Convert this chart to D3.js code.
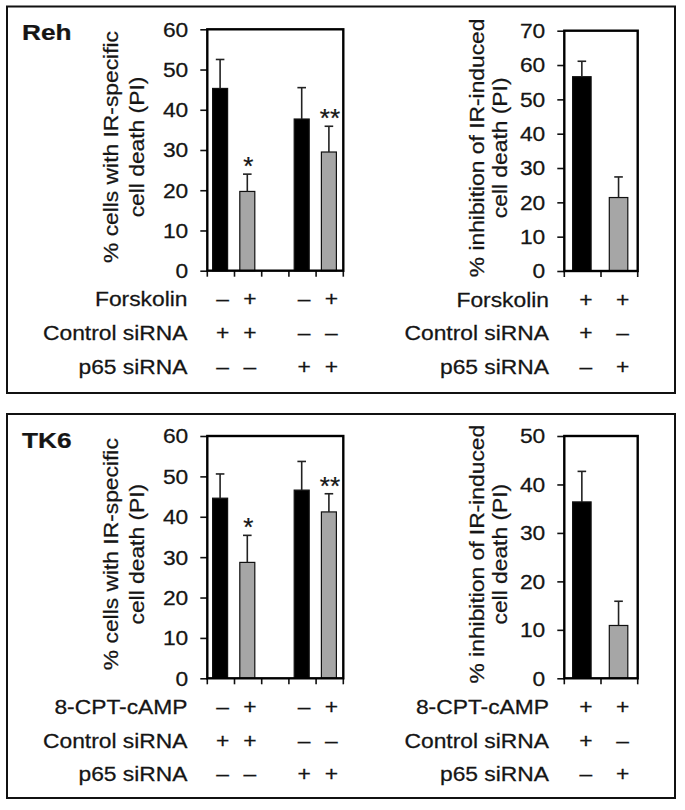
<!DOCTYPE html>
<html>
<head>
<meta charset="utf-8">
<script src="https://cdn.jsdelivr.net/npm/d3@7"></script>
<style>
  html, body { margin: 0; padding: 0; background: #fff; }
  svg { display: block; }
  text { font-family: "Liberation Sans", Arial, Helvetica, sans-serif; fill: #151515; stroke: #151515; stroke-width: 0.25px; }
</style>
</head>
<body>
<div id="chart"></div>
<script>
// ---------- DATA ----------
const deathSlots = ["c1", "c2", "gap", "c3", "c4"];
const deathBars = ["c1", "c2", "c3", "c4"];
const inhibBars = ["c1", "c2"];
const barColors = ["#000000", "#a6a6a6", "#000000", "#a6a6a6"];

const rehDeathMean = [45.3, 19.7, 37.7, 29.5];
const rehDeathErr = [7.2, 4.3, 7.8, 6.4];
const rehDeathSig = ["", "*", "", "**"];
const rehInhibMean = [56.6, 21.4];
const rehInhibErr = [4.5, 6.0];

const tk6DeathMean = [44.6, 28.7, 46.6, 41.2];
const tk6DeathErr = [6.0, 6.7, 7.1, 4.5];
const tk6DeathSig = ["", "*", "", "**"];
const tk6InhibMean = [36.4, 10.9];
const tk6InhibErr = [6.3, 5.0];

const deathTicks = [0, 10, 20, 30, 40, 50, 60];
const rehInhibTicks = [0, 10, 20, 30, 40, 50, 60, 70];
const tk6InhibTicks = [0, 10, 20, 30, 40, 50];

const deathTitle = ["% cells with IR-specific", "cell death (PI)"];
const inhibTitle = ["% inhibition of IR-induced", "cell death (PI)"];

const rehLeftRows = [
  ["Forskolin", ["–", "+", "–", "+"]],
  ["Control siRNA", ["+", "+", "–", "–"]],
  ["p65 siRNA", ["–", "–", "+", "+"]]
];
const rehRightRows = [
  ["Forskolin", ["+", "+"]],
  ["Control siRNA", ["+", "–"]],
  ["p65 siRNA", ["–", "+"]]
];
const tk6LeftRows = [
  ["8-CPT-cAMP", ["–", "+", "–", "+"]],
  ["Control siRNA", ["+", "+", "–", "–"]],
  ["p65 siRNA", ["–", "–", "+", "+"]]
];
const tk6RightRows = [
  ["8-CPT-cAMP", ["+", "+"]],
  ["Control siRNA", ["+", "–"]],
  ["p65 siRNA", ["–", "+"]]
];

// ---------- DRAW ----------
const W = 685, H = 810;
const FS = 19.5, SX = 1.17;

const svg = d3.select("#chart").append("svg")
  .attr("width", W).attr("height", H);
svg.append("rect").attr("width", W).attr("height", H).attr("fill", "#fff");

function hText(g, x, y, str, anchor, size, sx, weight) {
  return g.append("text")
    .attr("transform", `translate(${x},${y}) scale(${sx || SX},1)`)
    .attr("text-anchor", anchor || "start")
    .attr("font-size", size || FS)
    .attr("font-weight", weight || "normal")
    .text(str);
}
function vText(g, x, y, str) {
  return g.append("text")
    .attr("transform", `translate(${x},${y}) rotate(-90) scale(${SX},1)`)
    .attr("text-anchor", "middle")
    .attr("font-size", FS)
    .text(str);
}

function barPanel(opt) {
  const g = svg.append("g");
  const y = d3.scaleLinear().domain([0, opt.ymax]).range([opt.yb, opt.yt]);
  const x = d3.scaleBand().domain(opt.slots).range([opt.x0, opt.x1]).padding(0);

  // y axis ticks + labels
  const ax = g.append("g").attr("transform", `translate(${opt.x0},0)`)
    .call(d3.axisLeft(y).tickValues(opt.ticks).tickSize(7).tickSizeOuter(0));
  ax.select(".domain").remove();
  ax.selectAll(".tick line").attr("stroke", "#111").attr("stroke-width", 1.6);
  ax.selectAll(".tick text")
    .attr("x", null).attr("dy", null)
    .attr("font-size", FS)
    .attr("font-family", "Liberation Sans, Arial, sans-serif")
    .attr("fill", "#151515")
    .attr("text-anchor", "end")
    .attr("dominant-baseline", "central")
    .attr("transform", `translate(-19,0) scale(${SX},1)`);

  // x ticks at slot boundaries
  const edges = d3.range(opt.slots.length + 1).map(i => opt.x0 + i * x.step());
  g.selectAll(".xt").data(edges).enter().append("line")
    .attr("x1", d => d).attr("x2", d => d)
    .attr("y1", opt.yb).attr("y2", opt.yb + 6)
    .attr("stroke", "#111").attr("stroke-width", 1.6);

  // bars
  const data = opt.bars.map((k, i) => ({ k, m: opt.mean[i], e: opt.err[i], c: barColors[i], s: opt.sig ? opt.sig[i] : "" }));
  const cx = d => x(d.k) + x.bandwidth() / 2 - 0.8;
  g.selectAll(".bar").data(data).enter().append("rect")
    .attr("x", d => cx(d) - opt.bw / 2)
    .attr("y", d => y(d.m))
    .attr("width", opt.bw)
    .attr("height", d => y(0) - y(d.m))
    .attr("fill", d => d.c)
    .attr("stroke", "#111").attr("stroke-width", 1.2);
  // error bars (upper only)
  g.selectAll(".ev").data(data).enter().append("line")
    .attr("x1", cx).attr("x2", cx)
    .attr("y1", d => y(d.m)).attr("y2", d => y(d.m + d.e))
    .attr("stroke", "#222").attr("stroke-width", 1.6);
  g.selectAll(".ec").data(data).enter().append("line")
    .attr("x1", d => cx(d) - 4.3).attr("x2", d => cx(d) + 4.3)
    .attr("y1", d => y(d.m + d.e)).attr("y2", d => y(d.m + d.e))
    .attr("stroke", "#222").attr("stroke-width", 1.6);
  // significance stars
  g.selectAll(".sig").data(data.filter(d => d.s)).enter().append("text")
    .attr("x", d => cx(d) + 1)
    .attr("y", d => y(d.m + d.e) + 1)
    .attr("text-anchor", "middle")
    .attr("font-size", 26)
    .text(d => d.s);

  // frame
  g.append("rect").attr("x", opt.x0).attr("y", opt.yt)
    .attr("width", opt.x1 - opt.x0).attr("height", opt.yb - opt.yt)
    .attr("fill", "none").attr("stroke", "#000").attr("stroke-width", 2.4);

  // axis title (two lines, rotated)
  const ym = (opt.yt + opt.yb) / 2 - 3;
  vText(g, opt.t1, ym, opt.title[0]);
  vText(g, opt.t2, ym, opt.title[1]);

  // condition table
  opt.rows.forEach((r, ri) => {
    const by = opt.yb + 35.5 + ri * 33.8;
    hText(g, opt.lx, by, r[0], "end");
    r[1].forEach((s, si) => {
      hText(g, cx(data[si]) + opt.so, by, s, "middle");
    });
  });
}

// outer boxes
svg.append("rect").attr("x", 7).attr("y", 6.5).attr("width", 668).attr("height", 386.5)
  .attr("fill", "none").attr("stroke", "#111").attr("stroke-width", 2);
svg.append("rect").attr("x", 7).attr("y", 414).attr("width", 668).attr("height", 384)
  .attr("fill", "none").attr("stroke", "#111").attr("stroke-width", 2);

hText(svg, 22, 40, "Reh", "start", 21.5, 1.22, "bold");
hText(svg, 22, 448, "TK6", "start", 21.5, 1.22, "bold");

barPanel({ x0: 207.3, x1: 343.3, yt: 29.3, yb: 270.7, ymax: 60, ticks: deathTicks,
  slots: deathSlots, bars: deathBars, mean: rehDeathMean, err: rehDeathErr, sig: rehDeathSig,
  bw: 15, title: deathTitle, t1: 118, t2: 144, rows: rehLeftRows, lx: 187.5, so: 2.5 });
barPanel({ x0: 564.3, x1: 637.7, yt: 30.7, yb: 271, ymax: 70, ticks: rehInhibTicks,
  slots: inhibBars, bars: inhibBars, mean: rehInhibMean, err: rehInhibErr, sig: null,
  bw: 18.5, title: inhibTitle, t1: 484, t2: 507, rows: rehRightRows, lx: 549, so: 4 });
barPanel({ x0: 207.3, x1: 343.3, yt: 436, yb: 678.3, ymax: 60, ticks: deathTicks,
  slots: deathSlots, bars: deathBars, mean: tk6DeathMean, err: tk6DeathErr, sig: tk6DeathSig,
  bw: 15, title: deathTitle, t1: 118, t2: 144, rows: tk6LeftRows, lx: 187.5, so: 2.5 });
barPanel({ x0: 564.3, x1: 637.7, yt: 436, yb: 678.3, ymax: 50, ticks: tk6InhibTicks,
  slots: inhibBars, bars: inhibBars, mean: tk6InhibMean, err: tk6InhibErr, sig: null,
  bw: 18.5, title: inhibTitle, t1: 484, t2: 507, rows: tk6RightRows, lx: 549, so: 4 });
</script>
</body>
</html>
